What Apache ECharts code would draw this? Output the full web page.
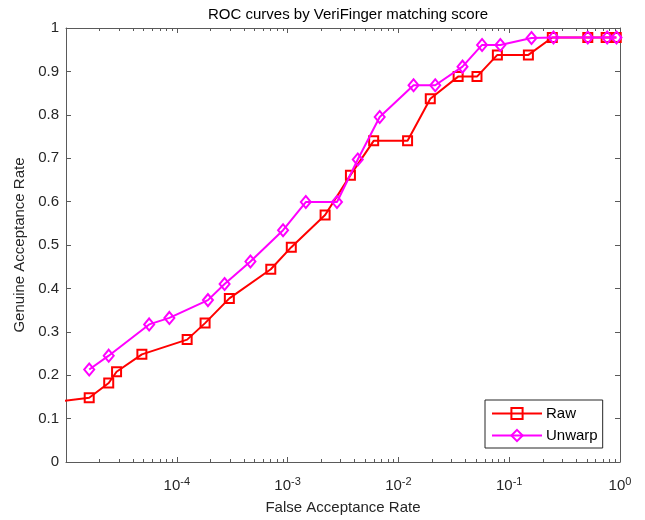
<!DOCTYPE html>
<html>
<head>
<meta charset="utf-8">
<script src="https://cdn.jsdelivr.net/npm/echarts@6/dist/echarts.min.js"></script>
<style>
  html, body { margin: 0; padding: 0; background: #fff; }
  #chart { width: 645px; height: 520px; }
</style>
</head>
<body>
<div id="chart"></div>
<script>
// False acceptance rate (x) and genuine acceptance rate (y) for each matcher run
const rawFar = [5e-6, 1.62e-5, 2.43e-5, 2.86e-5, 4.84e-5, 1.24e-4, 1.80e-4, 2.98e-4, 7.05e-4, 1.08e-3,
                2.18e-3, 3.69e-3, 5.98e-3, 1.21e-2, 1.94e-2, 3.46e-2, 5.12e-2, 7.82e-2, 0.149,
                0.245, 0.512, 0.75, 0.925];
const rawGar = [0.132, 0.148, 0.182, 0.208, 0.248, 0.282, 0.320, 0.377, 0.444, 0.495,
                0.569, 0.661, 0.740, 0.740, 0.837, 0.888, 0.888, 0.938, 0.938,
                0.978, 0.978, 0.978, 0.978];

const unwarpFar = [1.62e-5, 2.43e-5, 5.63e-5, 8.57e-5, 1.91e-4, 2.70e-4, 4.62e-4, 9.1e-4, 1.46e-3,
                   2.79e-3, 4.30e-3, 6.78e-3, 1.37e-2, 2.15e-2, 3.79e-2, 5.69e-2, 8.32e-2, 0.159,
                   0.251, 0.512, 0.766, 0.93];
const unwarpGar = [0.213, 0.245, 0.317, 0.332, 0.373, 0.410, 0.462, 0.534, 0.599,
                   0.599, 0.697, 0.795, 0.868, 0.868, 0.911, 0.961, 0.961, 0.977,
                   0.978, 0.978, 0.978, 0.978];

const seriesNames = ['Raw', 'Unwarp'];
const titleText = 'ROC curves by VeriFinger matching score';
const xName = 'False Acceptance Rate';
const yName = 'Genuine Acceptance Rate';

const AXIS_COLOR = '#5a5a5a';
const TEXT_COLOR = '#262626';
const FONT = '"Liberation Sans", Arial, Helvetica, sans-serif';

function pairs(xs, ys) { return xs.map((x, i) => [x, ys[i]]); }

const chart = echarts.init(document.getElementById('chart'), null, { renderer: 'canvas' });

const axisLineStyle = { show: true, onZero: false, lineStyle: { color: AXIS_COLOR, width: 1 } };
const tickStyle = { show: true, inside: true, length: 5, lineStyle: { color: AXIS_COLOR, width: 1 } };

function decadeLabel(v) {
  const e = Math.round(Math.log10(v));
  if (e <= -5) return '';
  return '{b|10}{sup|' + e + '}';
}

const option = {
  backgroundColor: '#ffffff',
  animation: false,
  textStyle: { fontFamily: FONT },
  title: {
    text: titleText,
    left: 343,
    top: 2,
    textAlign: 'center',
    textStyle: { fontFamily: FONT, fontSize: 15, fontWeight: 'normal', color: '#000' }
  },
  grid: { left: 66, right: 25, top: 28, bottom: 57, containLabel: false },
  legend: {
    orient: 'vertical',
    left: 485,
    top: 400,
    padding: [6, 5, 5, 6],
    itemGap: 7,
    itemWidth: 50,
    itemHeight: 14,
    backgroundColor: '#fff',
    borderColor: '#262626',
    borderWidth: 1,
    borderRadius: 0,
    textStyle: { fontFamily: FONT, fontSize: 15, color: '#000', padding: [0, 0, 0, -1] },
    data: seriesNames
  },
  xAxis: [
    {
      type: 'log',
      logBase: 10,
      min: 1e-5,
      max: 1,
      position: 'bottom',
      name: xName,
      nameLocation: 'middle',
      nameGap: 38,
      nameTextStyle: { fontFamily: FONT, fontSize: 15, color: TEXT_COLOR },
      axisLine: axisLineStyle,
      axisTick: tickStyle,
      splitLine: { show: false },
      axisLabel: {
        margin: 14,
        color: TEXT_COLOR,
        formatter: decadeLabel,
        rich: {
          b: { fontFamily: FONT, fontSize: 15, lineHeight: 20, color: TEXT_COLOR },
          sup: { fontFamily: FONT, fontSize: 11, lineHeight: 8, verticalAlign: 'top', color: TEXT_COLOR }
        }
      }
    },
    {
      type: 'log',
      logBase: 10,
      min: 1e-5,
      max: 1,
      position: 'top',
      axisLine: axisLineStyle,
      axisTick: tickStyle,
      axisLabel: { show: false },
      splitLine: { show: false }
    }
  ],
  yAxis: [
    {
      type: 'value',
      min: 0,
      max: 1,
      interval: 0.1,
      position: 'left',
      name: yName,
      nameLocation: 'middle',
      nameGap: 38,
      nameTextStyle: { fontFamily: FONT, fontSize: 15, color: TEXT_COLOR },
      axisLine: axisLineStyle,
      axisTick: tickStyle,
      splitLine: { show: false },
      axisLabel: { margin: 7, fontFamily: FONT, fontSize: 15, color: TEXT_COLOR }
    },
    {
      type: 'value',
      min: 0,
      max: 1,
      interval: 0.1,
      position: 'right',
      axisLine: axisLineStyle,
      axisTick: tickStyle,
      axisLabel: { show: false },
      splitLine: { show: false }
    }
  ],
  series: [
    {
      name: seriesNames[0],
      type: 'line',
      xAxisIndex: 0,
      yAxisIndex: 0,
      data: pairs(rawFar, rawGar),
      clip: true,
      symbol: 'rect',
      symbolSize: 9,
      showAllSymbol: true,
      lineStyle: { color: '#ff0000', width: 2 },
      itemStyle: { color: 'rgba(255,255,255,0)', borderColor: '#ff0000', borderWidth: 2 },
      emphasis: { disabled: true },
      z: 2
    },
    {
      name: seriesNames[1],
      type: 'line',
      xAxisIndex: 0,
      yAxisIndex: 0,
      data: pairs(unwarpFar, unwarpGar),
      clip: true,
      symbol: 'diamond',
      symbolSize: [10, 12],
      showAllSymbol: true,
      lineStyle: { color: '#ff00ff', width: 2 },
      itemStyle: { color: 'rgba(255,255,255,0)', borderColor: '#ff00ff', borderWidth: 2 },
      emphasis: { disabled: true },
      z: 3
    }
  ]
};

chart.setOption(option);

// Minor ticks (2..9 within each decade) on the bottom and top log axes,
// placed through the axis scale.
const yBottom = chart.convertToPixel({ yAxisIndex: 0 }, 0);
const yTop = chart.convertToPixel({ yAxisIndex: 0 }, 1);
const minorTicks = [];
for (let e = -5; e < 0; e++) {
  for (let k = 2; k <= 9; k++) {
    const v = k * Math.pow(10, e);
    const px = Math.round(chart.convertToPixel({ xAxisIndex: 0 }, v)) + 0.5;
    minorTicks.push({
      type: 'line', silent: true, z: 10,
      shape: { x1: px, y1: yBottom, x2: px, y2: yBottom - 3 },
      style: { stroke: AXIS_COLOR, lineWidth: 1 }
    });
    minorTicks.push({
      type: 'line', silent: true, z: 10,
      shape: { x1: px, y1: yTop, x2: px, y2: yTop + 3 },
      style: { stroke: AXIS_COLOR, lineWidth: 1 }
    });
  }
}
chart.setOption({ graphic: minorTicks });
</script>
</body>
</html>
